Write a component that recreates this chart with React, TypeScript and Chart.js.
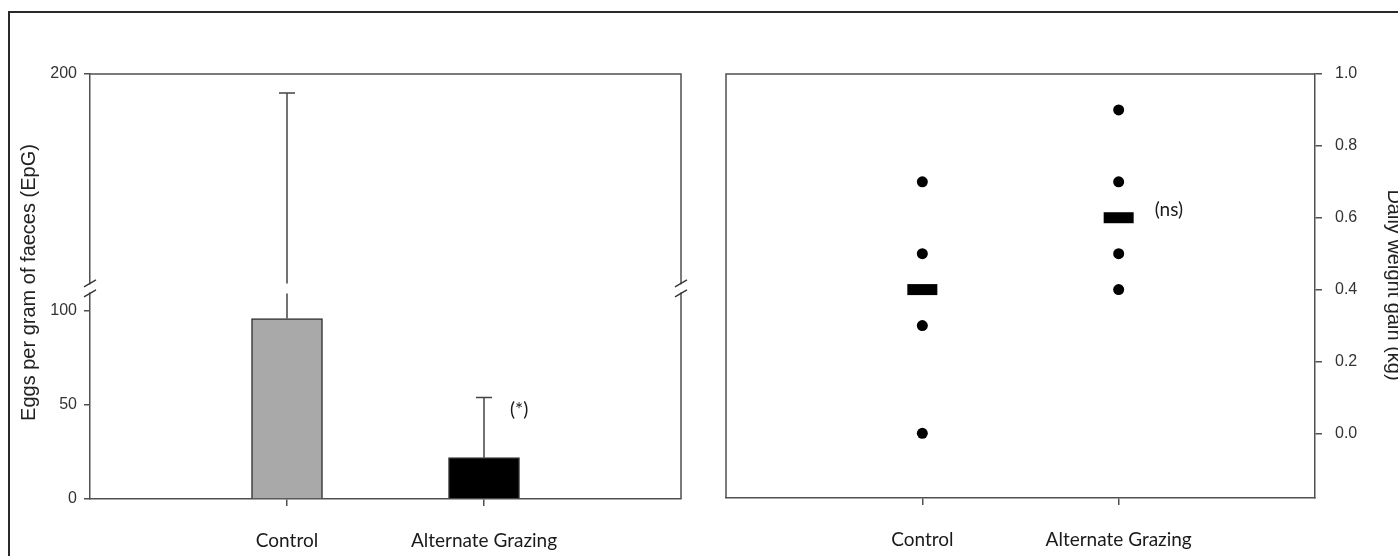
import React, { useEffect, useRef } from 'react';
import { Chart, registerables } from 'chart.js';

Chart.register(...registerables);

// ---- data ----
const CATEGORIES = ['Control', 'Alternate Grazing'];
const CAT_POS = [1, 2];

// Left panel: eggs per gram of faeces (mean and upper error)
const EPG_MEAN = [96, 22];
const EPG_ERR = [96, 32];
const EPG_LOW_TICKS = [0, 50, 100];
const EPG_HIGH_TICKS = [200];
const EPG_LOW_RANGE = [0, 112];
const EPG_HIGH_RANGE = [110, 200];
const EPG_SIG = '(*)';

// Right panel: daily weight gain (kg)
const DWG_CONTROL = [0.7, 0.5, 0.3, 0.0];
const DWG_ALT = [0.9, 0.7, 0.5, 0.4];
const DWG_MEAN = [0.4, 0.6];
const DWG_TICKS = [0, 0.2, 0.4, 0.6, 0.8, 1.0];
const DWG_RANGE = [-0.18, 1.0];
const DWG_SIG = '(ns)';

// ---- styles ----
const AXIS = '#505050';
const TICK_FONT = { family: '"Liberation Sans", Arial, sans-serif', size: 16 };
const CAT_FONT = { family: 'Lato, sans-serif', size: 19 };
const TITLE_FONT = '20px "Liberation Sans", Arial, sans-serif';
const BAR_COLORS = ['#a9a9a9', '#000000'];
const GAP = 5;

function catLabel(v: any) {
  const i = CAT_POS.indexOf(Number(v));
  return i >= 0 ? CATEGORIES[i] : '';
}

const xAxisBase = (height: number) => ({
  type: 'linear',
  position: 'bottom',
  min: 0,
  max: 3,
  offset: false,
  afterBuildTicks: (s: any) => { s.ticks = CAT_POS.map(v => ({ value: v })); },
  afterFit: (s: any) => { s.height = height; },
  ticks: { callback: catLabel, font: CAT_FONT, color: '#1a1a1a', padding: 23, autoSkip: false, maxRotation: 0 },
  grid: { offset: false, drawOnChartArea: false, drawTicks: true, tickLength: 7, color: AXIS, lineWidth: 1.5 },
  border: { color: AXIS, width: 1.5 },
});

function drawBreak(ctx: CanvasRenderingContext2D, bx: number, jy: number) {
  ctx.save();
  ctx.fillStyle = '#ffffff';
  ctx.fillRect(bx - 3, jy - GAP + 1, 6, 2 * GAP - 2);
  ctx.strokeStyle = '#333';
  ctx.lineWidth = 1.3;
  ctx.beginPath();
  for (const yy of [jy - GAP, jy + GAP]) {
    ctx.moveTo(bx - 6, yy + 3.5);
    ctx.lineTo(bx + 6, yy - 3.5);
  }
  ctx.stroke();
  ctx.restore();
}

const leftDecor = {
  id: 'leftDecor',
  afterDatasetsDraw(chart: any) {
    const { ctx, chartArea: a, scales } = chart;
    const x = scales.x, lo = scales.yLow, hi = scales.yHigh;
    const jy = lo.top;
    ctx.save();
    ctx.strokeStyle = AXIS;
    ctx.lineWidth = 1.5;
    ctx.beginPath();
    ctx.moveTo(a.left, a.top);
    ctx.lineTo(a.right, a.top);
    ctx.lineTo(a.right, a.bottom);
    ctx.stroke();

    // error bars (upper only)
    ctx.strokeStyle = '#444';
    ctx.lineWidth = 1.5;
    CAT_POS.forEach((cx, i) => {
      const px = x.getPixelForValue(cx);
      const topVal = EPG_MEAN[i] + EPG_ERR[i];
      const y0 = lo.getPixelForValue(EPG_MEAN[i]);
      let y1: number;
      ctx.beginPath();
      if (topVal <= lo.max) {
        y1 = lo.getPixelForValue(topVal);
        ctx.moveTo(px, y0);
        ctx.lineTo(px, y1);
      } else {
        y1 = hi.getPixelForValue(topVal);
        ctx.moveTo(px, y0);
        ctx.lineTo(px, jy + GAP);
        ctx.moveTo(px, jy - GAP);
        ctx.lineTo(px, y1);
      }
      ctx.moveTo(px - 8, y1);
      ctx.lineTo(px + 8, y1);
      ctx.stroke();
    });

    drawBreak(ctx, a.left, jy);
    drawBreak(ctx, a.right, jy);

    // significance mark
    ctx.fillStyle = '#1a1a1a';
    ctx.font = `${CAT_FONT.size}px ${CAT_FONT.family}`;
    ctx.textAlign = 'left';
    ctx.textBaseline = 'middle';
    ctx.fillText(EPG_SIG, x.getPixelForValue(CAT_POS[1]) + 26, lo.getPixelForValue(EPG_MEAN[1] + EPG_ERR[1]) + 12);

    // y title
    ctx.font = TITLE_FONT;
    ctx.fillStyle = '#222';
    ctx.textAlign = 'center';
    ctx.translate(29, (a.top + a.bottom) / 2 - 4);
    ctx.rotate(-Math.PI / 2);
    ctx.fillText('Eggs per gram of faeces (EpG)', 0, 0);
    ctx.restore();
  },
};

const rightDecor = {
  id: 'rightDecor',
  afterDatasetsDraw(chart: any) {
    const { ctx, chartArea: a, scales } = chart;
    const x = scales.x, y = scales.y;
    ctx.save();
    ctx.strokeStyle = AXIS;
    ctx.lineWidth = 1.5;
    ctx.beginPath();
    ctx.moveTo(a.left, a.bottom);
    ctx.lineTo(a.left, a.top);
    ctx.lineTo(a.right, a.top);
    ctx.stroke();

    ctx.fillStyle = '#1a1a1a';
    ctx.font = `${CAT_FONT.size}px ${CAT_FONT.family}`;
    ctx.textAlign = 'left';
    ctx.textBaseline = 'middle';
    ctx.fillText(DWG_SIG, x.getPixelForValue(CAT_POS[1]) + 36, y.getPixelForValue(DWG_MEAN[1]) - 8);

    ctx.font = TITLE_FONT;
    ctx.fillStyle = '#222';
    ctx.textAlign = 'center';
    ctx.translate(chart.width - 4, (a.top + a.bottom) / 2 - 1);
    ctx.rotate(Math.PI / 2);
    ctx.fillText('Daily weight gain (kg)', 0, 0);
    ctx.restore();
  },
};

function leftConfig(): any {
  return {
    type: 'bar',
    data: {
      datasets: [{
        data: CAT_POS.map((cx, i) => ({ x: cx, y: EPG_MEAN[i] })),
        backgroundColor: BAR_COLORS,
        borderColor: '#333',
        borderWidth: 1.5,
        barThickness: 71,
        xAxisID: 'x',
        yAxisID: 'yLow',
      }],
    },
    options: {
      animation: false,
      responsive: false,
      events: [],
      layout: { padding: { top: 74, right: 19, left: 0, bottom: 0 } },
      plugins: { legend: { display: false }, tooltip: { enabled: false } },
      scales: {
        x: xAxisBase(57),
        yLow: {
          type: 'linear', position: 'left', stack: 'epg', stackWeight: 210.6,
          min: EPG_LOW_RANGE[0], max: EPG_LOW_RANGE[1], beginAtZero: false,
          afterBuildTicks: (s: any) => { s.ticks = EPG_LOW_TICKS.map(v => ({ value: v })); },
          afterFit: (s: any) => { s.width = 90; },
          ticks: { font: TICK_FONT, color: '#333', padding: 7 },
          grid: { drawOnChartArea: false, tickLength: 6, color: AXIS, lineWidth: 1.5 },
          border: { color: AXIS, width: 1.5 },
        },
        yHigh: {
          type: 'linear', position: 'left', stack: 'epg', stackWeight: 214.4,
          min: EPG_HIGH_RANGE[0], max: EPG_HIGH_RANGE[1], beginAtZero: false,
          afterBuildTicks: (s: any) => { s.ticks = EPG_HIGH_TICKS.map(v => ({ value: v })); },
          afterFit: (s: any) => { s.width = 90; },
          ticks: { font: TICK_FONT, color: '#333', padding: 7 },
          grid: { drawOnChartArea: false, tickLength: 6, color: AXIS, lineWidth: 1.5 },
          border: { color: AXIS, width: 1.5 },
        },
      },
    },
    plugins: [leftDecor],
  };
}

function rightConfig(): any {
  const dot = { pointRadius: 5.5, pointStyle: 'circle', backgroundColor: '#000', borderColor: '#000', borderWidth: 0 };
  return {
    type: 'scatter',
    data: {
      datasets: [
        { ...dot, data: DWG_CONTROL.map(v => ({ x: CAT_POS[0], y: v })) },
        { ...dot, data: DWG_ALT.map(v => ({ x: CAT_POS[1], y: v })) },
        {
          data: DWG_MEAN.map((v, i) => ({ x: CAT_POS[i], y: v })),
          pointStyle: 'line', pointRadius: 15, borderWidth: 11, borderColor: '#000', backgroundColor: '#000',
        },
      ],
    },
    options: {
      animation: false,
      responsive: false,
      events: [],
      layout: { padding: { top: 74, right: 0, left: 23, bottom: 0 } },
      plugins: { legend: { display: false }, tooltip: { enabled: false } },
      scales: {
        x: xAxisBase(58),
        y: {
          type: 'linear', position: 'right',
          min: DWG_RANGE[0], max: DWG_RANGE[1],
          afterBuildTicks: (s: any) => { s.ticks = DWG_TICKS.map(v => ({ value: v })); },
          afterFit: (s: any) => { s.width = 83; },
          ticks: { font: TICK_FONT, color: '#333', padding: 13, callback: (v: any) => Number(v).toFixed(1) },
          grid: { drawOnChartArea: false, tickLength: 7, color: AXIS, lineWidth: 1.5 },
          border: { color: AXIS, width: 1.5 },
        },
      },
    },
    plugins: [rightDecor],
  };
}

export default function App() {
  const leftRef = useRef<HTMLCanvasElement>(null);
  const rightRef = useRef<HTMLCanvasElement>(null);
  useEffect(() => {
    const c1 = new Chart(leftRef.current!, leftConfig());
    const c2 = new Chart(rightRef.current!, rightConfig());
    return () => { c1.destroy(); c2.destroy(); };
  }, []);
  return (
    <div>
      <div style={{ position: 'fixed', left: 8, top: 11, width: 2000, height: 1000, border: '2px solid #2a2a2a', boxSizing: 'border-box' }} />
      <canvas ref={leftRef} width={700} height={556} style={{ position: 'fixed', left: 0, top: 0, width: 700, height: 556 }} />
      <canvas ref={rightRef} width={698} height={556} style={{ position: 'fixed', left: 700, top: 0, width: 698, height: 556 }} />
    </div>
  );
}
